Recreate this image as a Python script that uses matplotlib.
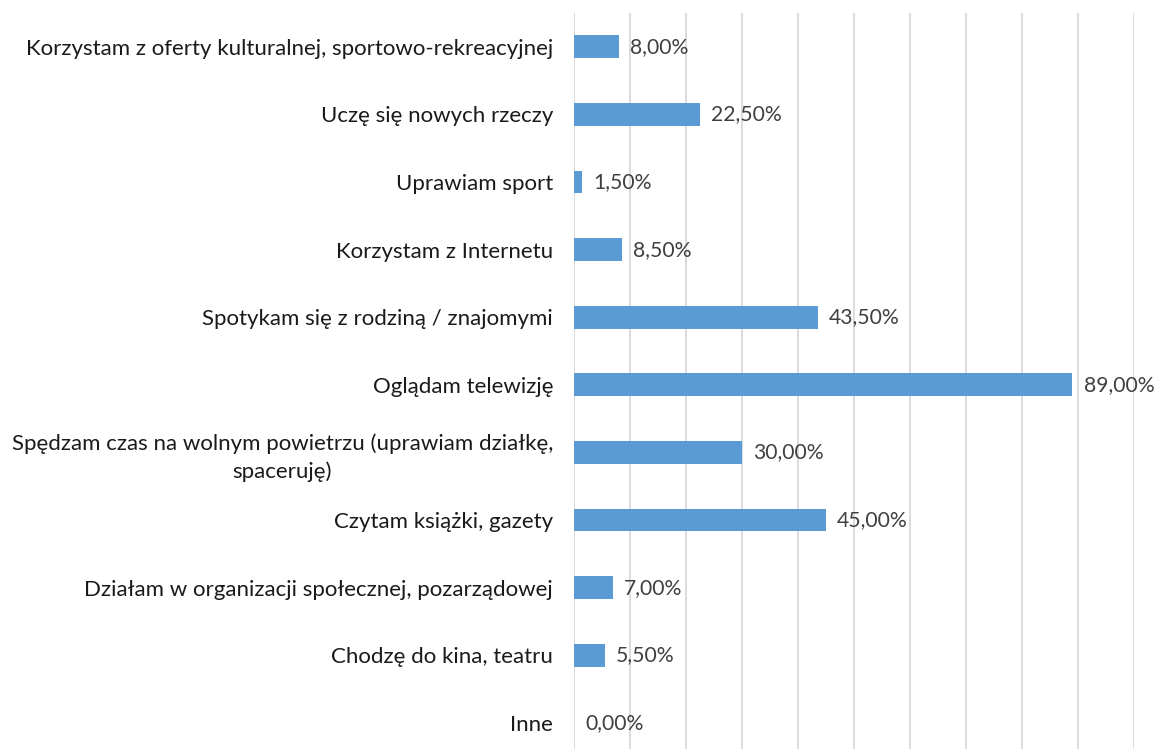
import matplotlib
matplotlib.use("Agg")
import matplotlib.pyplot as plt
from matplotlib.ticker import MultipleLocator

categories = [
    "Korzystam z oferty kulturalnej, sportowo-rekreacyjnej",
    "Uczę się nowych rzeczy",
    "Uprawiam sport",
    "Korzystam z Internetu",
    "Spotykam się z rodziną / znajomymi",
    "Oglądam telewizję",
    "Spędzam czas na wolnym powietrzu (uprawiam działkę,\nspaceruję)",
    "Czytam książki, gazety",
    "Działam w organizacji społecznej, pozarządowej",
    "Chodzę do kina, teatru",
    "Inne",
]
values = [8.0, 22.5, 1.5, 8.5, 43.5, 89.0, 30.0, 45.0, 7.0, 5.5, 0.0]
value_labels = ["8,00%", "22,50%", "1,50%", "8,50%", "43,50%", "89,00%",
                "30,00%", "45,00%", "7,00%", "5,50%", "0,00%"]

plt.rcParams['font.family'] = ['Lato', 'DejaVu Sans']

W, H = 1155, 749
fig = plt.figure(figsize=(W / 100, H / 100), dpi=100)
left, right = 574, 1134
top, bottom = 13, 749
ax = fig.add_axes([left / W, 1 - bottom / H, (right - left) / W, (bottom - top) / H])

ypos = list(range(len(categories)))
ax.barh(ypos, values, height=0.34, color="#5B9BD5", zorder=3)
ax.set_xlim(0, 100)
row_px = 67.6
ax.set_ylim(-0.5 + (bottom - top) / row_px, -0.5)

ax.xaxis.set_major_locator(MultipleLocator(10))
ax.grid(axis="x", color="#D9D9D9", linewidth=1.3, zorder=0)
ax.tick_params(axis="x", length=0, labelbottom=False)
ax.tick_params(axis="y", length=0, pad=15)
ax.set_yticks(ypos)
labels = ax.set_yticklabels(categories, fontsize=16, color="#1a1a1a", ha="right",
                            multialignment="center")
for t in labels:
    t.set_linespacing(1.4)
for s in ax.spines.values():
    s.set_visible(False)

for y, v, lab in zip(ypos, values, value_labels):
    ax.annotate(lab, xy=(v, y), xytext=(8, 0), textcoords="offset points",
                va="center", ha="left", fontsize=15.2, color="#404040")

fig.savefig("out.png", dpi=100)
